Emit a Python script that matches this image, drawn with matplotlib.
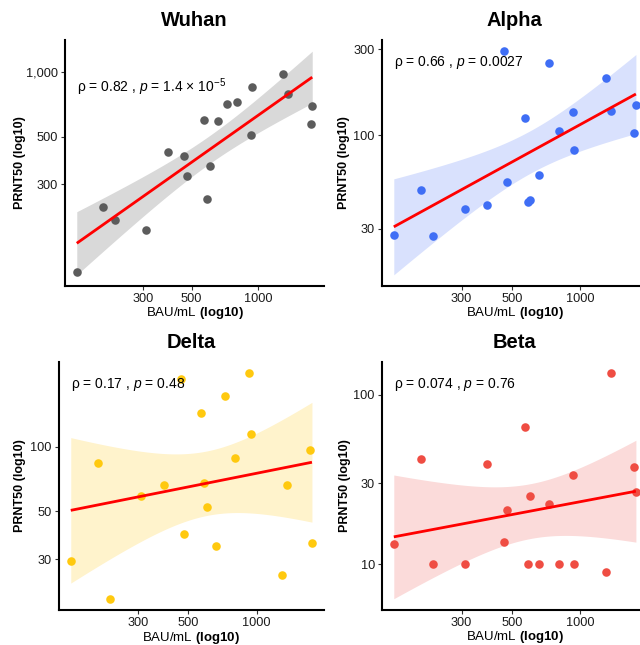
import numpy as np
import matplotlib
matplotlib.use("Agg")
import matplotlib.pyplot as plt
from matplotlib.ticker import FixedLocator, FixedFormatter, NullLocator

plt.rcParams['font.family'] = ['Liberation Sans', 'DejaVu Sans']
plt.rcParams['mathtext.fontset'] = 'custom'
plt.rcParams['mathtext.rm'] = 'Liberation Sans'
plt.rcParams['mathtext.it'] = 'Liberation Sans:italic'
plt.rcParams['mathtext.bf'] = 'Liberation Sans:bold'

# ---- data ----
bau = [151, 199, 225, 310, 389, 463, 477, 568, 586, 603, 660, 724, 804, 924, 940,
       1298, 1359, 1726, 1755]

wuhan = [116, 235, 203, 182, 422, 408, 329, 601, 256, 364, 593, 708, 729, 509, 858,
         982, 796, 576, 696]
alpha = [27.6, 49.1, 27.3, 38.7, 40.9, 293, 55, 124, 42.2, 43.4, 59.6, 252, 104.7,
         134, 82.6, 208, 136.5, 103, 147]
delta = [29.3, 84.5, 19.6, 58.9, 66.1, 207, 39.2, 144, 67.5, 52.2, 34.5, 173, 88.9,
         221, 114.5, 25.4, 66.1, 96.8, 35.5]
beta = [13.1, 41.5, 10, 10, 38.8, 13.6, 20.8, 64.5, 10, 25.1, 10, 22.8, 10, 33.7, 10,
        9.0, 134, 37.4, 26.5]

titles = ["Wuhan", "Alpha", "Delta", "Beta"]
series = [wuhan, alpha, delta, beta]
stats = ["ρ = 0.82 , $\\mathit{p}$ = 1.4 × 10$^{-5}$",
         "ρ = 0.66 , $\\mathit{p}$ = 0.0027",
         "ρ = 0.17 , $\\mathit{p}$ = 0.48",
         "ρ = 0.074 , $\\mathit{p}$ = 0.76"]
yticks = [[300, 500, 1000], [30, 100, 300], [30, 50, 100], [10, 30, 100]]
yticklabels = [["300", "500", "1,000"], ["30", "100", "300"], ["30", "50", "100"],
               ["10", "30", "100"]]
xticks = [300, 500, 1000]
xticklabels = ["300", "500", "1000"]

point_colors = ["#5c5c5c", "#3f6ef5", "#ffc90f", "#ef4d43"]
ribbon_colors = ["#d9d9d9", "#d9e1fd", "#fff3cc", "#fbdbda"]

# axes boxes in pixels: left, right, top, bottom
W, H = 640, 645
boxes = [(65, 324, 40, 286), (381.7, 648, 40, 286),
         (58.7, 324, 361.7, 610), (381.7, 648, 361.7, 610)]
ylabel_x = [20, 344, 20, 345]      # pixel centre of the y label
xlabel_drop = [27, 27, 28, 27]     # pixel distance of x label centre below axis
title_y = [21, 21, 343, 343]

T975 = 2.109816  # t quantile, df = 17

fig = plt.figure(figsize=(W / 100, H / 100), dpi=100)

for i in range(4):
    l, r, t, b = boxes[i]
    aw, ah = r - l, b - t
    ax = fig.add_axes([l / W, 1 - b / H, aw / W, ah / H])
    x = np.log10(np.array(bau, dtype=float))
    y = np.log10(np.array(series[i], dtype=float))
    n = len(x)
    slope, icpt = np.polyfit(x, y, 1)
    resid = y - (slope * x + icpt)
    s = np.sqrt(np.sum(resid ** 2) / (n - 2))
    xg = np.linspace(x.min(), x.max(), 80)
    fit = slope * xg + icpt
    se = s * np.sqrt(1 / n + (xg - x.mean()) ** 2 / np.sum((x - x.mean()) ** 2))
    lo, hi = fit - T975 * se, fit + T975 * se

    ax.fill_between(10 ** xg, 10 ** lo, 10 ** hi, color=ribbon_colors[i], lw=0, zorder=1)
    ax.scatter(10 ** x, 10 ** y, s=38, color=point_colors[i], lw=0, zorder=2)
    ax.plot(10 ** xg, 10 ** fit, color="#ff0000", lw=2.0, zorder=3,
            solid_capstyle="butt")

    ax.set_xscale("log")
    ax.set_yscale("log")
    xr = x.max() - x.min()
    ax.set_xlim(10 ** (x.min() - 0.05 * xr), 10 ** (x.max() + 0.05 * xr))
    ymin = min(y.min(), lo.min())
    ymax = max(y.max(), hi.max())
    yr = ymax - ymin
    ax.set_ylim(10 ** (ymin - 0.05 * yr), 10 ** (ymax + 0.05 * yr))

    ax.xaxis.set_major_locator(FixedLocator(xticks))
    ax.xaxis.set_major_formatter(FixedFormatter(xticklabels))
    ax.xaxis.set_minor_locator(NullLocator())
    ax.yaxis.set_major_locator(FixedLocator(yticks[i]))
    ax.yaxis.set_major_formatter(FixedFormatter(yticklabels[i]))
    ax.yaxis.set_minor_locator(NullLocator())

    for side in ["top", "right"]:
        ax.spines[side].set_visible(False)
    for side in ["left", "bottom"]:
        ax.spines[side].set_linewidth(1.5)
        ax.spines[side].set_color("black")
    ax.tick_params(axis="both", length=3, width=0.8, color="#333333",
                   labelsize=9.2, labelcolor="#1a1a1a", pad=2)

    fig.text((l + aw / 2) / W, 1 - title_y[i] / H, titles[i], fontsize=14.5,
             fontweight="bold", ha="center", va="center")

    ax.set_xlabel("BAU/mL $\\mathbf{(log10)}$", fontsize=9.5)
    ax.xaxis.label.set_va("center")
    ax.xaxis.set_label_coords(0.5, -xlabel_drop[i] / ah)
    ax.set_ylabel("PRNT50 (log10)", fontsize=9, fontweight="bold")
    ax.yaxis.label.set_va("center")
    ax.yaxis.set_label_coords((ylabel_x[i] - l) / aw, 0.5)

    ax.annotate(stats[i], xy=(10 ** x.min(), 10 ** y.max()), xytext=(0, -2),
                textcoords="offset points", ha="left", va="top", fontsize=10,
                color="black", zorder=4)

fig.savefig("out.png", dpi=100)
